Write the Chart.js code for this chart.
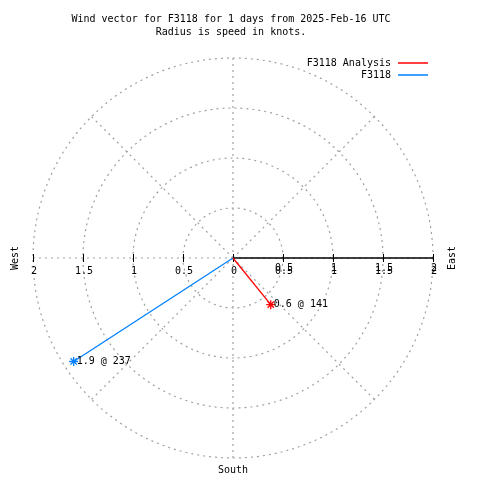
<!DOCTYPE html>
<html>
<head>
<meta charset="utf-8">
<script src="https://cdn.jsdelivr.net/npm/chart.js@4.4.1/dist/chart.umd.min.js"></script>
<style>
  html, body { margin: 0; padding: 0; background: #fff; }
  #wrap { width: 480px; height: 480px; }
</style>
</head>
<body>
<div id="wrap"><canvas id="myChart" width="480" height="480"></canvas></div>
<script>
// data
var seriesNames = ['F3118 Analysis', 'F3118'];
var speeds = [0.6, 1.9];          // knots
var directions = [141, 237];      // degrees, clockwise from north
var seriesColors = ['#ff0000', '#0080ff'];
var ringValues = [0.5, 1, 1.5, 2];
var spokeAngles = [0, 45, 90, 135, 180, 225, 270, 315];
var tickValues = [-2, -1.5, -1, -0.5, 0, 0.5, 1, 1.5, 2];
var tickLabels = ['2', '1.5', '1', '0.5', '0', '0.5', '1', '1.5', '2'];
var titleLines = ['Wind vector for F3118 for 1 days from 2025-Feb-16 UTC', 'Radius is speed in knots.'];

var FONT = '10px "DejaVu Sans Mono", monospace';

function toXY(speed, dir) {
  var a = dir * Math.PI / 180;
  return { x: speed * Math.sin(a), y: speed * Math.cos(a) };
}

var datasets = seriesNames.map(function(name, i) {
  return {
    label: name,
    data: [{ x: 0, y: 0 }, toXY(speeds[i], directions[i])],
    showLine: true,
    borderColor: seriesColors[i],
    backgroundColor: seriesColors[i],
    borderWidth: 1.3,
    pointStyle: 'star',
    pointRadius: [0, 4.5],
    pointBorderWidth: 1.3,
    pointBorderColor: seriesColors[i]
  };
});

var polarGrid = {
  id: 'polarGrid',
  beforeDatasetsDraw: function(chart) {
    var ctx = chart.ctx;
    var xs = chart.scales.x, ys = chart.scales.y;
    var cx = xs.getPixelForValue(0), cy = ys.getPixelForValue(0);
    ctx.save();
    ctx.strokeStyle = '#a0a0a0';
    ctx.lineWidth = 1.2;
    ctx.setLineDash([2, 4]);
    ringValues.forEach(function(r) {
      var rp = xs.getPixelForValue(r) - cx;
      ctx.beginPath();
      ctx.arc(cx, cy, rp, 0, Math.PI * 2);
      ctx.stroke();
    });
    var rmax = ringValues[ringValues.length - 1];
    spokeAngles.forEach(function(a) {
      var p = toXY(rmax, a);
      ctx.beginPath();
      ctx.moveTo(cx, cy);
      ctx.lineTo(xs.getPixelForValue(p.x), ys.getPixelForValue(p.y));
      ctx.stroke();
    });
    ctx.setLineDash([]);

    // east half of the axis solid
    ctx.strokeStyle = '#000';
    ctx.lineWidth = 1.3;
    ctx.beginPath();
    ctx.moveTo(cx, cy);
    ctx.lineTo(xs.getPixelForValue(rmax), cy);
    ctx.stroke();

    // tick marks and labels
    ctx.font = FONT;
    ctx.fillStyle = '#000';
    ctx.textAlign = 'center';
    ctx.textBaseline = 'middle';
    tickValues.forEach(function(v, i) {
      var px = Math.round(xs.getPixelForValue(v)) + 0.5;
      ctx.lineWidth = 1;
      ctx.beginPath();
      ctx.moveTo(px, cy - 4);
      ctx.lineTo(px, cy + 4);
      ctx.stroke();
      ctx.fillText(tickLabels[i], px + 0.5, cy + 13);
      if (v > 0) ctx.fillText(tickLabels[i], px + 0.5, cy + 10);
    });
    ctx.restore();
  },
  afterDatasetsDraw: function(chart) {
    var ctx = chart.ctx;
    var xs = chart.scales.x, ys = chart.scales.y;
    var cx = xs.getPixelForValue(0), cy = ys.getPixelForValue(0);
    ctx.save();
    ctx.font = FONT;
    ctx.fillStyle = '#000';
    ctx.textBaseline = 'middle';

    // value labels at vector tips
    speeds.forEach(function(s, i) {
      var p = toXY(s, directions[i]);
      ctx.textAlign = 'left';
      ctx.fillText(s.toFixed(1) + ' @ ' + directions[i],
        xs.getPixelForValue(p.x) + 3, ys.getPixelForValue(p.y));
    });

    // title
    ctx.textAlign = 'center';
    ctx.fillText(titleLines[0], 231, 19);
    ctx.fillText(titleLines[1], 231, 32);

    // compass labels
    ctx.fillText('South', cx, 470);
    ctx.save();
    ctx.translate(15, cy);
    ctx.rotate(-Math.PI / 2);
    ctx.fillText('West', 0, 0);
    ctx.restore();
    ctx.save();
    ctx.translate(452, cy);
    ctx.rotate(-Math.PI / 2);
    ctx.fillText('East', 0, 0);
    ctx.restore();

    // legend
    seriesNames.forEach(function(name, i) {
      var y = 63 + i * 12;
      ctx.textAlign = 'right';
      ctx.fillStyle = '#000';
      ctx.fillText(name, 391, y);
      ctx.strokeStyle = seriesColors[i];
      ctx.lineWidth = 1.5;
      ctx.beginPath();
      ctx.moveTo(398, y);
      ctx.lineTo(428, y);
      ctx.stroke();
    });
    ctx.restore();
  }
};

var ctx = document.getElementById('myChart');
var myChart = new Chart(ctx, {
  type: 'scatter',
  data: { datasets: datasets },
  options: {
    responsive: false,
    animation: false,
    layout: { padding: { left: 33, right: 47, top: 58, bottom: 22 } },
    scales: {
      x: { type: 'linear', min: -2, max: 2, display: false },
      y: { type: 'linear', min: -2, max: 2, display: false }
    },
    plugins: {
      legend: { display: false },
      title: { display: false },
      tooltip: { enabled: false }
    }
  },
  plugins: [polarGrid]
});
</script>
</body>
</html>
